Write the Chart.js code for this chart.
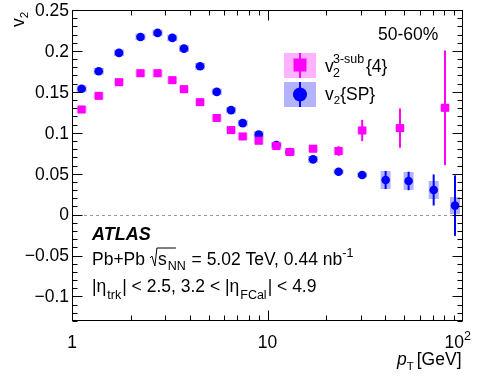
<!DOCTYPE html>
<html><head><meta charset="utf-8">
<script src="https://cdn.jsdelivr.net/npm/chart.js@4/dist/chart.umd.min.js"></script>
<style>html,body{margin:0;padding:0;background:#fff}canvas{display:block}</style>
</head><body>
<canvas id="c" width="478" height="379"></canvas>
<script>
// ---- data ----
const spPt   = [1.12,1.37,1.74,2.24,2.74,3.26,3.74,4.52,5.5,6.51,7.47,9.02,11.1,13.0,17.1,23.1,30.5,40.2,52.7,70.8,91];
const spV2   = [0.1537,0.1752,0.1976,0.2171,0.222,0.2159,0.2028,0.1813,0.150,0.1277,0.1118,0.0979,0.085,0.0765,0.0675,0.0524,0.0484,0.0423,0.0411,0.0301,0.011];
const spStat = [0.001,0.001,0.001,0.001,0.001,0.001,0.001,0.001,0.001,0.001,0.001,0.001,0.001,0.001,0.001,0.002,0.003,0.011,0.0113,0.019,0.037];
const spSys  = [0.004,0.004,0.004,0.004,0.004,0.004,0.004,0.004,0.004,0.004,0.004,0.004,0.004,0.004,0.004,0.003,0.003,0.011,0.011,0.011,0.0105];
const c4Pt   = [1.12,1.37,1.74,2.24,2.74,3.26,3.74,4.52,5.5,6.51,7.47,9.02,11.1,13.0,17.1,23.1,30.5,47.6,80.9];
const c4V2   = [0.1284,0.1451,0.1618,0.1728,0.1728,0.1643,0.1533,0.1374,0.118,0.1033,0.0955,0.0902,0.0838,0.0765,0.0805,0.0777,0.1028,0.1057,0.1305];
const c4Stat = [0.001,0.001,0.001,0.001,0.001,0.001,0.001,0.001,0.001,0.001,0.001,0.001,0.001,0.001,0.002,0.006,0.013,0.024,0.07];
const c4Sys  = [0.004,0.004,0.004,0.004,0.004,0.004,0.004,0.004,0.004,0.004,0.004,0.004,0.004,0.004,0.004,0.004,0.004,0.004,0.004];
const yTicks = [0.25,0.2,0.15,0.1,0.05,0,-0.05,-0.1];
const yTickLabels = ["0.25","0.2","0.15","0.1","0.05","0","\u22120.05","\u22120.1"];
const xTicks = [1,10,100];
const xTickLabels = ["1","10","10"];
// ----------------

const BLUE='#0000ff', MAG='#ff00ff';
const BLUE_SYS='rgba(0,0,255,0.3)', MAG_SYS='rgba(255,0,255,0.3)';
const FONT='"Liberation Sans", Arial, Helvetica, sans-serif';
const FS=17.5, SS=12.5;

function drawRich(ctx, parts, x, y){
  let cx=x;
  for(const p of parts){
    ctx.font=(p.style||'')+' '+p.size+'px '+FONT;
    if(p.t!=='') ctx.fillText(p.t, cx, y+(p.dy||0));
    cx+=ctx.measureText(p.t).width+(p.gap||0);
  }
  return cx;
}

const atlasPlugin={
  id:'atlas',
  beforeDatasetsDraw(chart){
    const ctx=chart.ctx, xs=chart.scales.x, ys=chart.scales.y, a=chart.chartArea;
    ctx.save();
    ctx.strokeStyle='#999'; ctx.lineWidth=1; ctx.setLineDash([3,3]);
    const zy=Math.round(ys.getPixelForValue(0))+0.5;
    ctx.beginPath(); ctx.moveTo(a.left, zy); ctx.lineTo(a.right, zy); ctx.stroke();
    ctx.setLineDash([]);
    const box=(pts,vals,sys,col)=>{
      ctx.fillStyle=col;
      pts.forEach((p,i)=>{
        const px=xs.getPixelForValue(p), t=ys.getPixelForValue(vals[i]+sys[i]), b=ys.getPixelForValue(vals[i]-sys[i]);
        ctx.fillRect(px-5, t, 10, b-t);
      });
    };
    box(spPt,spV2,spSys,BLUE_SYS);
    box(c4Pt,c4V2,c4Sys,MAG_SYS);
    const bars=(pts,vals,err,col)=>{
      ctx.strokeStyle=col; ctx.lineWidth=2;
      pts.forEach((p,i)=>{
        const px=xs.getPixelForValue(p);
        ctx.beginPath(); ctx.moveTo(px, ys.getPixelForValue(vals[i]+err[i])); ctx.lineTo(px, ys.getPixelForValue(vals[i]-err[i])); ctx.stroke();
      });
    };
    bars(spPt,spV2,spStat,BLUE);
    bars(c4Pt,c4V2,c4Stat,MAG);
    ctx.restore();
  },
  afterDatasetsDraw(chart){
    const ctx=chart.ctx, xs=chart.scales.x, ys=chart.scales.y, a=chart.chartArea;
    ctx.save();
    ctx.strokeStyle='#000'; ctx.lineWidth=1;
    const L=Math.round(a.left)+0.5, R=Math.round(a.right)-0.5, T=Math.round(a.top)+0.5, B=Math.round(a.bottom)-0.5;
    ctx.strokeRect(L,T,R-L,B-T);
    ctx.beginPath();
    for(let k=-13;k<=25;k++){
      const v=k/100, py=Math.round(ys.getPixelForValue(v))+0.5;
      const len=(k%5===0)?10:5;
      ctx.moveTo(L,py); ctx.lineTo(L+len,py);
      ctx.moveTo(R,py); ctx.lineTo(R-len,py);
    }
    for(let d=1; d<100; d*=10){
      for(let m=1;m<10;m++){
        const v=d*m, px=Math.round(xs.getPixelForValue(v))+0.5;
        const len=(m===1)?10:5;
        ctx.moveTo(px,B); ctx.lineTo(px,B-len);
        ctx.moveTo(px,T); ctx.lineTo(px,T+len);
      }
    }
    ctx.stroke();
    ctx.fillStyle='#000'; ctx.font=FS+'px '+FONT; ctx.textAlign='right'; ctx.textBaseline='middle';
    yTicks.forEach((v,i)=>ctx.fillText(yTickLabels[i], a.left-3, ys.getPixelForValue(v)+1));
    ctx.textAlign='center'; ctx.textBaseline='alphabetic';
    xTicks.forEach((v,i)=>{
      const px=xs.getPixelForValue(v);
      if(i===2){
        ctx.textAlign='left';
        ctx.font=FS+'px '+FONT;
        const w=ctx.measureText('10').width;
        ctx.fillText('10', px-w+1, a.bottom+27);
        ctx.font=SS+'px '+FONT; ctx.fillText('2', px+1, a.bottom+19);
        ctx.textAlign='center';
      } else {
        ctx.font=FS+'px '+FONT; ctx.fillText(xTickLabels[i], px, a.bottom+27);
      }
    });
    ctx.textAlign='left';
    drawRich(ctx,[{t:'p',size:FS,style:'italic'},{t:'T',size:SS-1,dy:5,gap:3},{t:'[GeV]',size:FS}],397,365);
    ctx.save();
    ctx.translate(24,27); ctx.rotate(-Math.PI/2);
    drawRich(ctx,[{t:'v',size:FS},{t:'2',size:SS-1,dy:4}],0,0);
    ctx.restore();
    ctx.font=FS+'px '+FONT; ctx.fillText('50-60%',378,40);
    ctx.font='italic bold 18px '+FONT; ctx.fillText('ATLAS',92,240);
    let x=drawRich(ctx,[{t:'Pb+Pb ',size:FS}],92,265);
    ctx.lineWidth=1; ctx.beginPath(); ctx.moveTo(x,258); ctx.lineTo(x+2,256); ctx.lineTo(x+5,266); ctx.lineTo(x+7,248); ctx.lineTo(x+26,248); ctx.stroke();
    drawRich(ctx,[{t:'s',size:FS,gap:1},{t:'NN',size:SS,dy:5,gap:1},{t:' = 5.02 TeV, 0.44 nb',size:FS},{t:'-1',size:SS,dy:-8}],x+8,265);
    drawRich(ctx,[{t:'|\u03b7',size:FS,gap:1},{t:'trk',size:SS,dy:7,gap:1},{t:'| < 2.5, 3.2 < |\u03b7',size:FS,gap:1},{t:'FCal',size:SS,dy:7,gap:1},{t:'| < 4.9',size:FS}],92,292);
    // legend
    ctx.fillStyle=MAG_SYS; ctx.fillRect(284,53,32,25);
    ctx.fillStyle=BLUE_SYS; ctx.fillRect(284,82,32,25);
    ctx.strokeStyle=MAG; ctx.lineWidth=2; ctx.beginPath(); ctx.moveTo(300,53); ctx.lineTo(300,78); ctx.stroke();
    ctx.fillStyle=MAG; ctx.fillRect(293.5,58.5,13,13);
    ctx.strokeStyle=BLUE; ctx.beginPath(); ctx.moveTo(300,82); ctx.lineTo(300,107); ctx.stroke();
    ctx.fillStyle=BLUE; ctx.beginPath(); ctx.arc(300,94.5,7,0,Math.PI*2); ctx.fill();
    ctx.fillStyle='#000';
    ctx.font=FS+'px '+FONT; ctx.fillText('v',325,72);
    ctx.font=SS+'px '+FONT; ctx.fillText('2',333,77); ctx.fillText('3-sub',333,63);
    ctx.font=FS+'px '+FONT; ctx.fillText('{4}',366,72);
    drawRich(ctx,[{t:'v',size:FS},{t:'2',size:SS-1,dy:4},{t:'{SP}',size:FS}],325,100);
    ctx.restore();
  }
};

new Chart(document.getElementById('c'),{
  type:'scatter',
  data:{datasets:[
    {label:'v2{SP}', data:spPt.map((p,i)=>({x:p,y:spV2[i]})), pointStyle:'circle', pointRadius:4.3, pointHoverRadius:4.3, backgroundColor:BLUE, borderColor:BLUE, borderWidth:0, order:1},
    {label:'v2 3-sub {4}', data:c4Pt.map((p,i)=>({x:p,y:c4V2[i]})), pointStyle:'rect', pointRadius:5.7, pointHoverRadius:5.7, backgroundColor:MAG, borderColor:MAG, borderWidth:0, order:0}
  ]},
  options:{
    responsive:false, devicePixelRatio:1, animation:false,
    layout:{padding:{left:72,right:15,top:10,bottom:58}},
    plugins:{legend:{display:false},tooltip:{enabled:false}},
    scales:{
      x:{type:'logarithmic',min:1,max:100,display:false},
      y:{type:'linear',min:-0.13,max:0.25,display:false}
    }
  },
  plugins:[atlasPlugin]
});
</script>
</body></html>
